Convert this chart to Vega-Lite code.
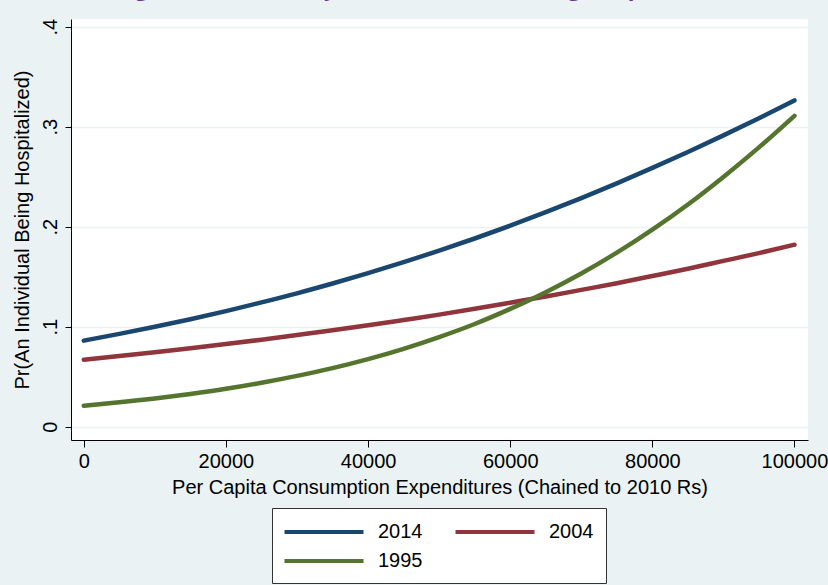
{
  "$schema": "https://vega.github.io/schema/vega-lite/v6.json",
  "width": 737,
  "height": 421,
  "autosize": {"type": "none"},
  "padding": {"left": 71, "top": 19, "right": 20, "bottom": 145},
  "background": "#eaf2f3",
  "title": {
    "text": "Figure 3: Probability of an Individual Being Hospitalized",
    "anchor": "middle",
    "frame": "group",
    "baseline": "alphabetic",
    "offset": 0,
    "dx": -20,
    "font": "Open Sans",
    "fontSize": 22,
    "fontWeight": "bold",
    "color": "#7030a0"
  },
  "config": {
    "view": {"fill": "white", "stroke": null},
    "axis": {
      "labelFont": "Liberation Sans",
      "titleFont": "Liberation Sans",
      "labelFontSize": 20,
      "titleFontSize": 20,
      "titleFontWeight": "normal",
      "labelColor": "#000000",
      "titleColor": "#000000",
      "domainColor": "#000000",
      "tickColor": "#000000",
      "domainWidth": 1,
      "tickWidth": 1,
      "tickSize": 7
    }
  },
  "data": {
    "values": [
      {"x": 0, "p": 0.0861, "year": "2014"},
      {"x": 5000, "p": 0.0928, "year": "2014"},
      {"x": 10000, "p": 0.0999, "year": "2014"},
      {"x": 15000, "p": 0.1075, "year": "2014"},
      {"x": 20000, "p": 0.1156, "year": "2014"},
      {"x": 25000, "p": 0.1243, "year": "2014"},
      {"x": 30000, "p": 0.1334, "year": "2014"},
      {"x": 35000, "p": 0.1432, "year": "2014"},
      {"x": 40000, "p": 0.1535, "year": "2014"},
      {"x": 45000, "p": 0.1645, "year": "2014"},
      {"x": 50000, "p": 0.1760, "year": "2014"},
      {"x": 55000, "p": 0.1882, "year": "2014"},
      {"x": 60000, "p": 0.2010, "year": "2014"},
      {"x": 65000, "p": 0.2145, "year": "2014"},
      {"x": 70000, "p": 0.2286, "year": "2014"},
      {"x": 75000, "p": 0.2434, "year": "2014"},
      {"x": 80000, "p": 0.2588, "year": "2014"},
      {"x": 85000, "p": 0.2747, "year": "2014"},
      {"x": 90000, "p": 0.2913, "year": "2014"},
      {"x": 95000, "p": 0.3085, "year": "2014"},
      {"x": 100000, "p": 0.3263, "year": "2014"},
      {"x": 0, "p": 0.0670, "year": "2004"},
      {"x": 5000, "p": 0.0706, "year": "2004"},
      {"x": 10000, "p": 0.0744, "year": "2004"},
      {"x": 15000, "p": 0.0784, "year": "2004"},
      {"x": 20000, "p": 0.0826, "year": "2004"},
      {"x": 25000, "p": 0.0870, "year": "2004"},
      {"x": 30000, "p": 0.0916, "year": "2004"},
      {"x": 35000, "p": 0.0964, "year": "2004"},
      {"x": 40000, "p": 0.1014, "year": "2004"},
      {"x": 45000, "p": 0.1067, "year": "2004"},
      {"x": 50000, "p": 0.1121, "year": "2004"},
      {"x": 55000, "p": 0.1179, "year": "2004"},
      {"x": 60000, "p": 0.1240, "year": "2004"},
      {"x": 65000, "p": 0.1302, "year": "2004"},
      {"x": 70000, "p": 0.1368, "year": "2004"},
      {"x": 75000, "p": 0.1435, "year": "2004"},
      {"x": 80000, "p": 0.1507, "year": "2004"},
      {"x": 85000, "p": 0.1580, "year": "2004"},
      {"x": 90000, "p": 0.1658, "year": "2004"},
      {"x": 95000, "p": 0.1736, "year": "2004"},
      {"x": 100000, "p": 0.1820, "year": "2004"},
      {"x": 0, "p": 0.0210, "year": "1995"},
      {"x": 5000, "p": 0.0244, "year": "1995"},
      {"x": 10000, "p": 0.0283, "year": "1995"},
      {"x": 15000, "p": 0.0328, "year": "1995"},
      {"x": 20000, "p": 0.0379, "year": "1995"},
      {"x": 25000, "p": 0.0439, "year": "1995"},
      {"x": 30000, "p": 0.0508, "year": "1995"},
      {"x": 35000, "p": 0.0586, "year": "1995"},
      {"x": 40000, "p": 0.0676, "year": "1995"},
      {"x": 45000, "p": 0.0779, "year": "1995"},
      {"x": 50000, "p": 0.0896, "year": "1995"},
      {"x": 55000, "p": 0.1027, "year": "1995"},
      {"x": 60000, "p": 0.1178, "year": "1995"},
      {"x": 65000, "p": 0.1345, "year": "1995"},
      {"x": 70000, "p": 0.1532, "year": "1995"},
      {"x": 75000, "p": 0.1740, "year": "1995"},
      {"x": 80000, "p": 0.1970, "year": "1995"},
      {"x": 85000, "p": 0.2222, "year": "1995"},
      {"x": 90000, "p": 0.2498, "year": "1995"},
      {"x": 95000, "p": 0.2793, "year": "1995"},
      {"x": 100000, "p": 0.3109, "year": "1995"}
    ]
  },
  "mark": {"type": "line", "strokeWidth": 4.5, "strokeCap": "round", "interpolate": "monotone"},
  "encoding": {
    "x": {
      "field": "x",
      "type": "quantitative",
      "scale": {"domain": [-1800, 101900], "nice": false, "zero": false},
      "axis": {
        "values": [0, 20000, 40000, 60000, 80000, 100000],
        "format": "d",
        "grid": false,
        "labelPadding": 4,
        "labelFlush": false,
        "titlePadding": 6,
        "title": "Per Capita Consumption Expenditures (Chained to 2010 Rs)"
      }
    },
    "y": {
      "field": "p",
      "type": "quantitative",
      "scale": {"domain": [-0.0133, 0.4077], "nice": false, "zero": false},
      "axis": {
        "values": [0, 0.1, 0.2, 0.3, 0.4],
        "labelExpr": "datum.value == 0 ? '0' : replace(format(datum.value, '.1f'), '0.', '.')",
        "labelAngle": 270,
        "labelAlign": "center",
        "labelBaseline": "alphabetic",
        "labelPadding": 9,
        "tickSize": 6,
        "grid": true,
        "gridColor": "#eaf2f3",
        "gridWidth": 1.5,
        "titlePadding": 8,
        "title": "Pr(An Individual Being Hospitalized)"
      }
    },
    "color": {
      "field": "year",
      "type": "nominal",
      "scale": {"domain": ["2014", "2004", "1995"], "range": ["#1a476f", "#90353b", "#55752f"]},
      "legend": {
        "title": null,
        "orient": "none",
        "legendX": 201,
        "legendY": 489,
        "direction": "horizontal",
        "columns": 2,
        "symbolType": "M-4,0H4",
        "symbolSize": 390,
        "symbolOffset": 28,
        "symbolStrokeWidth": 4,
        "labelFont": "Liberation Sans",
        "labelFontSize": 20,
        "labelColor": "#000000",
        "labelOffset": 42,
        "columnPadding": 24,
        "rowPadding": 7,
        "padding": 12,
        "fillColor": "#ffffff",
        "strokeColor": "#333333"
      }
    }
  }
}
